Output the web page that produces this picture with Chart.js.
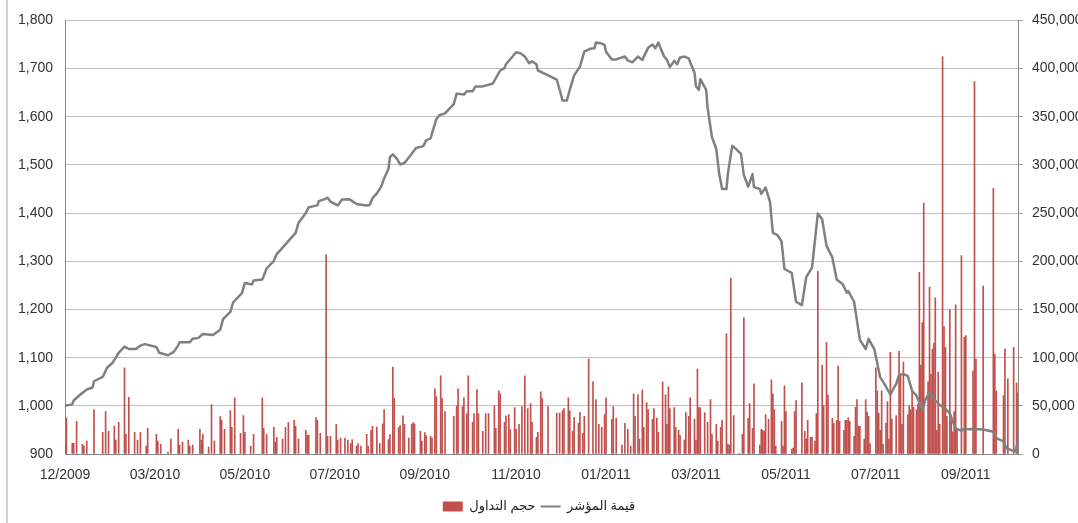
<!DOCTYPE html>
<html>
<head>
<meta charset="utf-8">
<script src="https://cdn.jsdelivr.net/npm/chart.js@4.4.0/dist/chart.umd.min.js"></script>
<style>
  html, body { margin: 0; padding: 0; background: #fff; overflow: hidden; }
  #wrap { position: relative; width: 1078px; height: 523px; }
  #frame { position: absolute; left: 6px; top: 0; width: 2px; height: 523px; background: #d0d0d0; }
</style>
</head>
<body>
<div id="wrap"><canvas id="chart"></canvas><div id="frame"></div></div>
<script>
// x axis is in days from the first session (12/2009)
const tickDays = [0, 62, 124, 186, 248, 311, 373, 435, 497, 559, 621];
const tickLabels = ["12/2009", "03/2010", "05/2010", "07/2010", "09/2010", "11/2010",
                    "01/2011", "03/2011", "05/2011", "07/2011", "09/2011"];

// index value (left axis)
const lineDays = [
  0, 5, 6, 10, 15, 19, 20, 26, 29, 33, 37, 41, 44, 49, 52, 55, 63, 65, 71, 75,
  78, 79, 86, 88, 92, 95, 102, 107, 109, 114, 116, 122, 124, 129, 130, 136, 139, 144, 146, 152,
  159, 161, 164, 166, 168, 171, 174, 175, 179, 181, 183, 188, 191, 196, 201, 208, 210, 212, 215, 218,
  220, 223, 224, 226, 229, 231, 234, 238, 242, 247, 249, 252, 256, 258, 262, 268, 270, 275, 277, 281,
  283, 288, 295, 300, 303, 304, 308, 311, 314, 317, 320, 322, 325, 326, 331, 339, 341, 343, 346, 348,
  351, 355, 358, 362, 365, 366, 370, 372, 373, 377, 380, 386, 388, 391, 395, 398, 402, 405, 407, 409,
  413, 415, 417, 420, 422, 424, 427, 430, 434, 435, 437, 438, 442, 443, 446, 449, 451, 453, 456, 457,
  460, 463, 466, 468, 471, 474, 475, 479, 480, 483, 486, 488, 491, 494, 496, 501, 504, 508, 511, 515,
  519, 522, 525, 529, 532, 536, 539, 540, 544, 548, 552, 554, 558, 562, 565, 569, 571, 573, 575, 578,
  581, 584, 587, 589, 591, 593, 596, 600, 603, 607, 610, 614, 618, 619, 626, 633, 640, 642, 647, 649,
  655, 657
];
const indexValues = [
  1000, 1003, 1011, 1022, 1034, 1038, 1051, 1060, 1079, 1090, 1110, 1123, 1118, 1118, 1125, 1128, 1122, 1110, 1105, 1112,
  1125, 1132, 1132, 1139, 1141, 1149, 1147, 1158, 1180, 1195, 1215, 1234, 1255, 1252, 1260, 1262, 1285, 1301, 1315, 1335,
  1359, 1380, 1392, 1400, 1412, 1414, 1416, 1425, 1429, 1432, 1424, 1416, 1428, 1429, 1419, 1416, 1417, 1431, 1441, 1455,
  1472, 1492, 1516, 1522, 1512, 1501, 1504, 1519, 1535, 1539, 1551, 1555, 1595, 1603, 1607, 1626, 1648, 1646, 1653, 1653,
  1663, 1663, 1669, 1696, 1701, 1709, 1723, 1734, 1732, 1725, 1711, 1715, 1709, 1696, 1689, 1677, 1656, 1634, 1634, 1656,
  1686, 1704, 1735, 1741, 1742, 1754, 1752, 1749, 1735, 1719, 1719, 1725, 1717, 1713, 1725, 1718, 1743, 1750, 1742, 1754,
  1725, 1718, 1703, 1716, 1709, 1723, 1725, 1721, 1691, 1663, 1656, 1678, 1656, 1619, 1558, 1533, 1482, 1450, 1450, 1482,
  1540, 1532, 1523, 1479, 1455, 1481, 1454, 1450, 1440, 1453, 1424, 1359, 1355, 1341, 1284, 1276, 1216, 1209, 1267, 1287,
  1399, 1387, 1332, 1308, 1262, 1253, 1235, 1238, 1216, 1137, 1118, 1139, 1117, 1059, 1045, 1023, 1035, 1045, 1064, 1066,
  1062, 1031, 1021, 1007, 990, 1011, 1028, 1011, 1002, 994, 984, 953, 948, 951, 952, 951, 946, 933, 926, 912,
  905, 925
];

// trading volume (right axis)
const barDays = [
  1, 5, 6, 8, 12, 13, 15, 20, 26, 28, 30, 34, 35, 37, 41, 42, 44, 48, 50, 52,
  56, 57, 63, 64, 66, 71, 73, 78, 79, 81, 85, 86, 88, 93, 94, 95, 99, 101, 103, 107,
  108, 110, 114, 115, 117, 121, 123, 124, 128, 130, 136, 137, 139, 144, 145, 146, 150, 152, 154, 158,
  159, 161, 166, 167, 168, 173, 174, 176, 180, 181, 183, 187, 188, 190, 193, 195, 197, 198, 201, 202,
  204, 208, 209, 211, 212, 215, 217, 219, 220, 223, 224, 226, 227, 230, 231, 233, 234, 237, 239, 240,
  241, 245, 246, 248, 249, 252, 253, 255, 256, 259, 260, 262, 268, 270, 271, 274, 275, 277, 278, 281,
  282, 284, 285, 288, 290, 292, 296, 297, 299, 300, 303, 304, 306, 307, 310, 311, 313, 315, 317, 319,
  321, 322, 325, 326, 328, 329, 333, 339, 341, 343, 344, 347, 348, 350, 351, 354, 355, 357, 358, 361,
  364, 366, 368, 370, 372, 373, 377, 378, 380, 384, 386, 388, 390, 392, 393, 395, 396, 398, 399, 401,
  402, 405, 406, 408, 409, 412, 414, 415, 416, 417, 420, 421, 423, 424, 427, 428, 430, 431, 434, 435,
  436, 437, 438, 441, 443, 445, 446, 449, 450, 452, 453, 456, 457, 458, 459, 461, 465, 467, 468, 471,
  472, 474, 475, 479, 480, 481, 482, 483, 485, 487, 488, 489, 490, 494, 495, 496, 497, 501, 502, 503,
  504, 508, 510, 511, 512, 514, 515, 517, 518, 519, 522, 523, 525, 526, 529, 530, 532, 533, 534, 537,
  538, 539, 540, 541, 544, 545, 546, 547, 548, 551, 552, 553, 554, 555, 559, 560, 561, 562, 563, 564,
  566, 567, 568, 569, 570, 573, 575, 576, 577, 578, 581, 582, 583, 584, 585, 587, 588, 589, 590, 591,
  592, 595, 596, 597, 598, 599, 600, 601, 602, 603, 605, 606, 607, 608, 610, 611, 612, 613, 614, 615,
  618, 620, 621, 626, 627, 628, 633, 640, 641, 642, 647, 648, 650, 654, 656, 657
];
const volumes = [
  37600, 11000, 11000, 33800, 10000, 8200, 13300, 46000, 22500, 44000, 23600, 28700, 14400, 32800, 89500, 20500, 58700, 22500, 14400, 22500,
  8200, 26700, 20500, 13300, 10000, 2000, 15400, 25600, 9200, 12300, 14400, 8200, 9200, 25600, 14400, 20500, 7200, 51200, 13300, 38900,
  34900, 25600, 45100, 27700, 58400, 21500, 40000, 22500, 8200, 20500, 58400, 26700, 20500, 27700, 12300, 17400, 15400, 27700, 32800, 34900,
  28700, 15400, 24600, 19500, 19500, 37900, 34900, 21500, 207000, 18400, 18400, 30700, 14400, 16400, 16400, 14400, 10900, 15000, 8200, 10900,
  8200, 20500, 8200, 24600, 28700, 28000, 10900, 31400, 46100, 15000, 20200, 90200, 58100, 27300, 29400, 39600, 30700, 16400, 30700, 32500,
  31400, 23600, 13300, 22200, 19100, 18400, 16400, 67700, 59500, 81000, 57400, 44100, 39000, 49900, 67700, 49200, 58400, 42000, 81000, 32800,
  42000, 66600, 42000, 23600, 42000, 42000, 49900, 26700, 65600, 62500, 32800, 39600, 41000, 25300, 48200, 25600, 30700, 49200, 81000, 47200,
  52300, 32800, 17400, 22500, 64600, 57400, 49200, 42400, 42400, 45100, 47200, 58400, 44800, 23600, 38000, 31800, 43100, 21500, 39000, 98400,
  74800, 56400, 30700, 27700, 41000, 58400, 35900, 49200, 36900, 9200, 31800, 25600, 8200, 62500, 39000, 61500, 15400, 66600, 27700, 53300,
  46100, 35900, 47200, 36900, 22500, 74800, 61500, 30700, 69700, 47200, 48200, 27700, 24600, 19500, 14400, 43100, 39000, 58400, 35900, 14400,
  88200, 48200, 48200, 43100, 32800, 56400, 20500, 30700, 13300, 27700, 34900, 125100, 10200, 9200, 182500, 40000, 700, 20500, 141500, 36900,
  52300, 26700, 72800, 9200, 25600, 24600, 23600, 41000, 35900, 76900, 62500, 46100, 8200, 33800, 8200, 70700, 44100, 5100, 6200, 44100,
  55400, 73800, 23600, 15400, 34900, 17400, 17400, 13300, 42000, 189600, 92200, 50200, 115800, 61500, 36900, 31800, 34900, 91200, 33800, 24600,
  34900, 34900, 37600, 33800, 18400, 48500, 56400, 28700, 28700, 15400, 56400, 43400, 39000, 10900, 89500, 65600, 42400, 24600, 65600, 10200,
  32100, 54300, 15400, 105600, 36600, 40000, 106600, 81000, 30700, 95300, 41000, 50200, 45800, 65600, 48500, 45800, 51900, 188600, 92300, 136300,
  260400, 74800, 173200, 82700, 109000, 115100, 162000, 24600, 85100, 30700, 412400, 132200, 110700, 39000, 149700, 35500, 22900, 44100, 154800, 24600,
  206000, 121000, 123000, 86100, 386400, 98400, 174300, 275700, 103500, 65600, 60500, 109000, 77900, 110700, 73800, 63600
];

const tickFont = { family: "'Liberation Sans', 'DejaVu Sans', sans-serif", size: 14 };
const legendFont = { family: "'Liberation Sans', 'DejaVu Sans', sans-serif", size: 13 };

const config = {
  data: {
    datasets: [{
      type: 'bar',
      label: 'حجم التداول',
      data: barDays.map((d, i) => ({ x: d, y: volumes[i] })),
      yAxisID: 'y1',
      backgroundColor: '#c0504d',
      borderWidth: 0,
      barThickness: 1,
      pointStyle: 'rect',
      order: 2
    }, {
      type: 'line',
      label: 'قيمة المؤشر',
      data: lineDays.map((d, i) => ({ x: d, y: indexValues[i] })),
      yAxisID: 'y',
      borderColor: '#808080',
      borderWidth: 2.5,
      pointRadius: 0,
      pointBorderWidth: 2,
      pointBorderColor: '#808080',
      pointStyle: 'line',
      tension: 0,
      borderJoinStyle: 'round',
      order: 1
    }]
  },
  options: {
    responsive: true,
    maintainAspectRatio: false,
    animation: false,
    layout: { padding: { top: 15, bottom: 0, left: 0, right: 0 } },
    plugins: {
      tooltip: { enabled: false },
      legend: {
        position: 'bottom',
        labels: {
          font: legendFont,
          color: '#222',
          usePointStyle: true,
          pointStyleWidth: 20,
          boxHeight: 10,
          padding: 5,
          sort: (a, b) => a.datasetIndex - b.datasetIndex
        }
      }
    },
    scales: {
      x: {
        type: 'linear',
        min: 0,
        max: 657,
        offset: false,
        grid: { display: false, drawTicks: false },
        border: { color: '#868686', width: 1 },
        afterBuildTicks: (scale) => { scale.ticks = tickDays.map(v => ({ value: v })); },
        afterFit: (scale) => { scale.height = 41; },
        ticks: {
          autoSkip: false,
          maxRotation: 0,
          padding: 13,
          font: tickFont,
          color: '#333',
          callback: (v) => {
            const k = tickDays.indexOf(v);
            return k >= 0 ? tickLabels[k] : '';
          }
        }
      },
      y: {
        position: 'left',
        min: 900,
        max: 1800,
        grid: { color: '#c0c0c0', drawTicks: false },
        border: { color: '#868686', width: 1 },
        afterFit: (scale) => { scale.width = 65; },
        ticks: { stepSize: 100, padding: 12, font: tickFont, color: '#333' }
      },
      y1: {
        position: 'right',
        min: 0,
        max: 450000,
        grid: { drawOnChartArea: false, drawTicks: true, tickLength: 5, color: '#a0a0a0' },
        border: { color: '#868686', width: 1 },
        afterFit: (scale) => { scale.width = 60; },
        ticks: { stepSize: 50000, padding: 9, font: tickFont, color: '#333' }
      }
    }
  }
};

window.addEventListener('DOMContentLoaded', () => {
  new Chart(document.getElementById('chart'), config);
});
</script>
</body>
</html>
